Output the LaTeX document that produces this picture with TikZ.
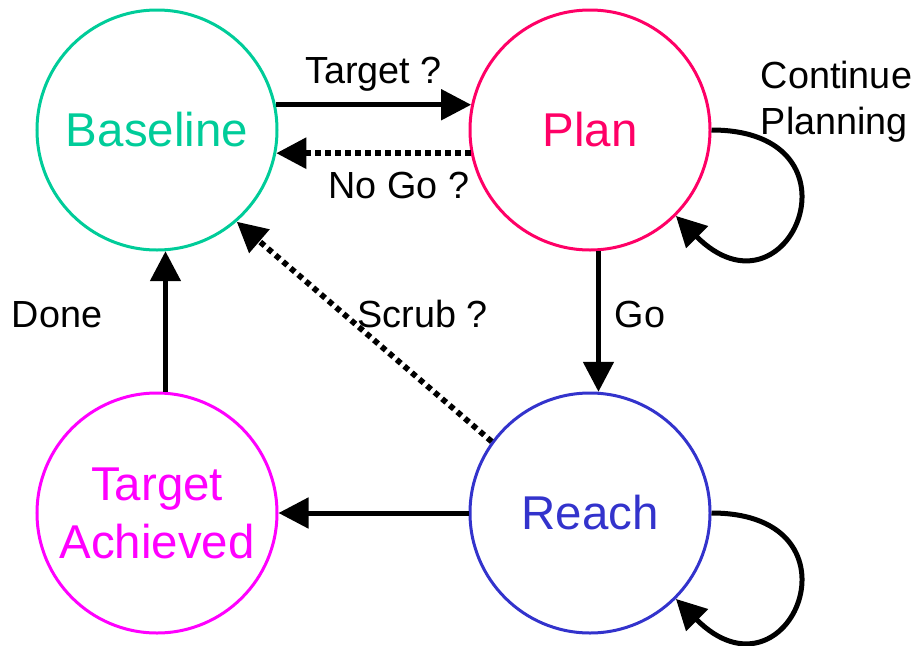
\documentclass[tikz,border=0pt]{standalone}
\usepackage{fontspec}
\setmainfont{Liberation Sans}
\usepackage{tikz}
\usetikzlibrary{arrows.meta,positioning}
\definecolor{basecol}{HTML}{00CC99}
\definecolor{plancol}{HTML}{FF0066}
\definecolor{reachcol}{HTML}{3333CC}
\definecolor{achcol}{HTML}{FF00FF}
\newcommand{\statefont}{\fontsize{27}{33}\selectfont}
\newcommand{\lblfont}{\fontsize{21.5}{26}\selectfont}
\tikzset{
  state/.style = {circle, draw, line width=0.6mm, minimum size=4.8cm,
                  inner sep=0pt, align=center, font=\statefont},
  lbl/.style   = {font=\lblfont, text=black},
  ar/.style    = {-{Triangle[length=6mm, width=6mm]}, draw=black, line width=1mm},
  dar/.style   = {ar, line width=1.15mm, dash pattern=on 1.1mm off 0.9mm}
}
\begin{document}
\begin{tikzpicture}[node distance=2.8cm and 3.8cm]
    \useasboundingbox (-3.14,2.6) rectangle (15.16,-10.3);
    \node[state, draw=basecol, text=basecol] (base) {Baseline};
    \node[state, draw=plancol, text=plancol, right=of base] (plan) {Plan};
    \node[state, draw=reachcol, text=reachcol, below=of plan] (reach) {Reach};
    \node[state, draw=achcol, text=achcol, below=of base] (ach) {Target\\Achieved};
    \draw[ar] (base.12) -- node[lbl, above=1mm] (tgtlbl) {Target ?} (plan.168);
    \draw[dar] (plan.191) -- node[lbl, below=2mm, pos=0.37] (nogolbl) {No Go ?} (base.-11);
    \draw[ar] (plan.-86) -- node[lbl, right=1.6mm, yshift=1.4mm] (golbl) {Go} (reach.86);
    \draw[ar] (reach.west) -- (ach.east);
    \draw[ar] (ach.86) -- node[lbl, left=1.1cm, yshift=1.4mm] (donelbl) {Done} (base.-86);
    \draw[dar] (reach.144) -- node[lbl, pos=0.58, right=1mm] (scrublbl) {Scrub ?} (base.-49);
    % self loops
    \draw[ar] (plan.east) .. controls +(3.2,0) and +(-45:3.2) .. (plan.-45)
      node[lbl, pos=0.1, above right, yshift=-3mm, align=left] (contlbl) {Continue\\Planning};
    \draw[ar] (reach.east) .. controls +(3.2,0) and +(-45:3.2) .. (reach.-45);
\end{tikzpicture}
\end{document}
